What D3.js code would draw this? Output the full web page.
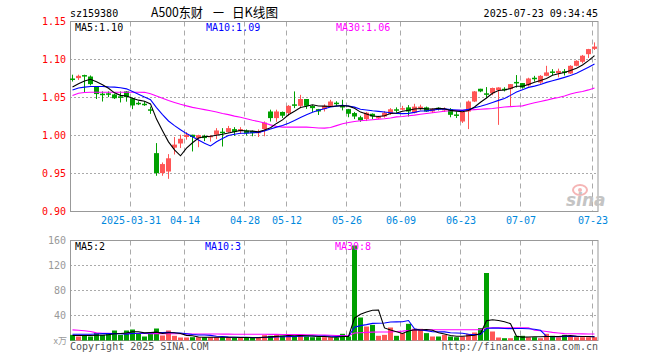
<!DOCTYPE html>
<html>
<head>
<meta charset="utf-8">
<script src="https://cdn.jsdelivr.net/npm/d3@7"></script>
<style>
  body { margin: 0; background: #fff; }
  text { font-family: "DejaVu Sans Mono", monospace; font-size: 10px; }
</style>
</head>
<body>
<svg id="chart" width="660" height="360"></svg>
<script>
// trading days shown (88 sessions)
var dates = [
  "2025-03-17","2025-03-18","2025-03-19","2025-03-20","2025-03-21","2025-03-24","2025-03-25","2025-03-26","2025-03-27","2025-03-28",
  "2025-03-31","2025-04-01","2025-04-02","2025-04-03","2025-04-07","2025-04-08","2025-04-09","2025-04-10","2025-04-11","2025-04-14",
  "2025-04-15","2025-04-16","2025-04-17","2025-04-18","2025-04-21","2025-04-22","2025-04-23","2025-04-24","2025-04-25","2025-04-28",
  "2025-04-29","2025-04-30","2025-05-06","2025-05-07","2025-05-08","2025-05-09","2025-05-12","2025-05-13","2025-05-14","2025-05-15",
  "2025-05-16","2025-05-19","2025-05-20","2025-05-21","2025-05-22","2025-05-23","2025-05-26","2025-05-27","2025-05-28","2025-05-29",
  "2025-05-30","2025-06-03","2025-06-04","2025-06-05","2025-06-06","2025-06-09","2025-06-10","2025-06-11","2025-06-12","2025-06-13",
  "2025-06-16","2025-06-17","2025-06-18","2025-06-19","2025-06-20","2025-06-23","2025-06-24","2025-06-25","2025-06-26","2025-06-27",
  "2025-06-30","2025-07-01","2025-07-02","2025-07-03","2025-07-04","2025-07-07","2025-07-08","2025-07-09","2025-07-10","2025-07-11",
  "2025-07-14","2025-07-15","2025-07-16","2025-07-17","2025-07-18","2025-07-21","2025-07-22","2025-07-23"
];

var open = [
  1.075,1.0755,1.0795,1.0776,1.0645,1.055,1.0555,1.054,1.0515,1.058,
  1.049,1.043,1.0418,1.0345,0.9768,0.9505,0.9526,0.984,0.9895,0.998,
  1.001,0.9966,0.9996,0.998,1.001,1.005,1.0045,1.0084,1.0058,1.0066,
  1.006,1.004,1.0085,1.0316,1.0229,1.031,1.0295,1.041,1.039,1.048,
  1.039,1.0347,1.0347,1.039,1.0432,1.0388,1.0347,1.0295,1.024,1.0216,
  1.0286,1.0226,1.025,1.0285,1.0345,1.0355,1.037,1.030,1.0375,1.037,
  1.0316,1.0365,1.034,1.0347,1.0277,1.0184,1.0316,1.0447,1.0615,1.0555,
  1.0555,1.0597,1.0615,1.061,1.0705,1.069,1.066,1.076,1.0697,1.0785,
  1.0843,1.082,1.0845,1.0816,1.0917,1.097,1.107,1.114
];
var high = [
  1.080,1.080,1.080,1.079,1.065,1.058,1.058,1.055,1.058,1.0585,
  1.050,1.045,1.045,1.038,0.990,0.9645,0.9755,0.998,1.001,1.0045,
  1.001,1.001,1.001,1.0005,1.0097,1.0097,1.0126,1.011,1.011,1.008,
  1.0065,1.008,1.0185,1.034,1.034,1.0315,1.040,1.058,1.0535,1.048,
  1.040,1.035,1.041,1.047,1.045,1.047,1.035,1.031,1.026,1.031,
  1.029,1.026,1.032,1.036,1.037,1.039,1.040,1.0417,1.0405,1.038,
  1.036,1.037,1.037,1.036,1.0316,1.031,1.046,1.0585,1.0615,1.0637,
  1.063,1.0635,1.0635,1.0676,1.0795,1.069,1.076,1.0785,1.0795,1.0917,
  1.0873,1.088,1.0875,1.0925,1.099,1.106,1.114,1.1225
];
var low = [
  1.071,1.073,1.057,1.066,1.048,1.0447,1.0505,1.048,1.0435,1.0445,
  1.0347,1.040,1.039,1.0285,0.947,0.947,0.943,0.975,0.9835,0.9945,
  0.979,0.9846,0.9926,0.992,0.9953,0.9855,1.0035,0.9995,1.002,1.000,
  0.999,0.998,0.999,1.0184,1.018,1.023,1.026,1.036,1.036,1.035,
  1.031,1.027,1.0316,1.038,1.039,1.033,1.024,1.0216,1.018,1.019,
  1.0216,1.0216,1.0235,1.027,1.030,1.033,1.025,1.029,1.033,1.031,
  1.0296,1.033,1.031,1.024,1.023,1.0165,1.0084,1.044,1.057,1.049,
  1.053,1.014,1.058,1.038,1.063,1.0617,1.0645,1.071,1.068,1.078,
  1.0795,1.0765,1.079,1.081,1.091,1.095,1.102,1.1125
];
var close = [
  1.074,1.0785,1.079,1.0676,1.0545,1.0545,1.055,1.049,1.051,1.0505,
  1.0395,1.0426,1.0413,1.034,0.9505,0.9624,0.970,0.988,0.9957,1.001,
  0.998,1.0005,0.9966,0.9996,1.0066,1.0045,1.0097,1.0045,1.0084,1.003,
  1.003,1.005,1.017,1.0229,1.0316,1.026,1.039,1.040,1.048,1.039,
  1.036,1.0316,1.039,1.0447,1.0426,1.038,1.0286,1.025,1.020,1.030,
  1.025,1.025,1.030,1.0345,1.0338,1.036,1.0316,1.038,1.038,1.0316,
  1.035,1.036,1.035,1.0272,1.0272,1.031,1.0447,1.058,1.058,1.055,
  1.0625,1.0632,1.061,1.0676,1.0695,1.063,1.075,1.0755,1.0785,1.083,
  1.0838,1.085,1.084,1.0917,1.0983,1.105,1.1137,1.117
];

// price moving averages as drawn
var ma5 = [
  1.0637,1.068,1.0716,1.074,1.0707,1.0668,1.0621,1.0561,1.0528,1.052,
  1.049,1.0465,1.045,1.0416,1.0216,1.0062,0.9916,0.981,0.9733,0.9834,
  0.9905,0.9966,0.9984,0.9991,1.0003,1.0016,1.0034,1.005,1.0067,1.006,
  1.0057,1.0048,1.0073,1.0102,1.0159,1.0205,1.0273,1.0319,1.0369,1.0384,
  1.0404,1.0389,1.0387,1.0381,1.0388,1.0392,1.0386,1.0358,1.0308,1.0283,
  1.0257,1.025,1.026,1.0289,1.0297,1.0319,1.0332,1.0348,1.0355,1.035,
  1.0348,1.0357,1.0351,1.033,1.0321,1.0313,1.033,1.0376,1.0438,1.0493,
  1.0556,1.0593,1.0599,1.0619,1.0648,1.0649,1.0672,1.0701,1.0723,1.075,
  1.0792,1.0812,1.0829,1.0855,1.0886,1.0928,1.0985,1.1051
];
var ma10 = [
  1.060,1.0625,1.0637,1.0645,1.0645,1.0645,1.064,1.0637,1.0628,1.0614,
  1.0579,1.0543,1.0506,1.0472,1.0368,1.0276,1.0191,1.013,1.0075,1.0025,
  0.9984,0.9941,0.9897,0.9862,0.9918,0.9961,1.0,1.0017,1.0029,1.0031,
  1.0036,1.0041,1.0061,1.0085,1.011,1.0131,1.016,1.0196,1.0236,1.0272,
  1.0305,1.0331,1.0353,1.0375,1.0386,1.0398,1.0388,1.0373,1.0345,1.0336,
  1.0325,1.0318,1.0309,1.0299,1.029,1.0288,1.0291,1.0304,1.0322,1.0324,
  1.0334,1.0345,1.035,1.0342,1.0336,1.0331,1.0344,1.0364,1.0384,1.0407,
  1.0435,1.0462,1.0488,1.0528,1.0571,1.0603,1.0633,1.065,1.0671,1.0699,
  1.072,1.0742,1.0765,1.0789,1.0818,1.086,1.0899,1.094
];
var ma30 = [
  1.0525,1.0555,1.0565,1.057,1.057,1.057,1.057,1.057,1.057,1.057,
  1.057,1.057,1.0568,1.055,1.052,1.049,1.046,1.0435,1.041,1.039,
  1.037,1.0355,1.034,1.0325,1.031,1.029,1.0275,1.0255,1.024,1.022,
  1.020,1.0185,1.0165,1.014,1.012,1.011,1.011,1.011,1.011,1.011,
  1.0105,1.0098,1.0097,1.0105,1.013,1.0155,1.017,1.0185,1.0195,1.020,
  1.0207,1.0215,1.022,1.023,1.0245,1.025,1.026,1.0268,1.028,1.029,
  1.030,1.031,1.032,1.0325,1.033,1.033,1.0335,1.034,1.0345,1.035,
  1.0355,1.0365,1.0375,1.038,1.0385,1.039,1.041,1.043,1.0447,1.0465,
  1.0485,1.050,1.052,1.0545,1.0565,1.058,1.060,1.0625
];

// volume (x万) and its averages
var volume = [
  9,6.4,8,6.4,11.8,9,10.7,16,9,16,
  17.6,11.8,6.4,11.8,19.2,8,16,7.5,4.8,4.8,
  5.3,5.3,5.3,5.3,5.3,5.3,5.3,4.3,4.3,4.3,
  4.3,4.3,8.5,7.5,8.5,7.5,8.5,6.4,9,6.4,
  5.3,5.3,5.3,5.3,4.8,10.7,6.4,152,36.8,22.4,
  25,7.5,9,20.8,7.5,11.8,26.7,18.7,18.7,11.8,
  6.4,6.4,9,6.4,5.3,6.4,10.7,12.8,19.8,108,
  14.4,4.8,3.7,3.7,7.5,7.5,5.3,5.3,3.7,10.7,
  7.5,5.3,9,6.4,5.3,5.3,5.3,5.3
];
var vma5 = [
  8,8,8,8,8.3,8.3,9.2,10.8,11.3,12.1,
  13.9,14.1,12.2,12.7,13.4,11.4,12.3,12.5,11.1,8.2,
  7.7,5.5,5.1,5.2,5.3,5.3,5.3,5.1,4.9,4.7,
  4.5,4.3,5.1,5.8,6.6,7.3,8.1,7.7,8.0,7.6,
  7.1,6.5,6.3,5.5,5.2,6.3,6.5,35.8,42.1,45.7,
  48.5,48.7,20.1,16.9,14.0,11.3,15.2,17.1,16.7,17.5,
  16.5,12.4,10.5,8.0,6.7,6.7,7.6,8.3,11.0,31.5,
  33.1,32.0,30.1,26.9,6.8,5.4,5.5,5.9,5.9,6.5,
  6.5,6.5,7.2,7.8,6.7,6.3,6.3,5.5
];
var vma10 = [
  10,10,10,10,10.5,11,11,11,11,10.2,
  11.1,11.6,11.5,12.0,12.8,12.7,13.2,12.3,11.9,10.8,
  9.6,8.9,8.8,8.2,6.8,6.5,5.4,5.1,5.1,5.0,
  4.9,4.8,5.1,5.3,5.7,5.9,6.2,6.4,6.9,7.1,
  7.2,7.3,7.0,6.8,6.4,6.7,6.5,21.1,23.8,25.4,
  27.4,27.6,28.0,29.5,29.8,29.9,32.0,18.6,16.8,15.8,
  13.9,13.8,13.8,12.3,12.1,11.6,10.0,9.4,9.5,19.1,
  19.9,19.8,19.2,19.0,19.2,19.3,18.8,18.0,16.4,6.7,
  6.0,6.0,6.6,6.8,6.6,6.4,6.4,6.4
];
var vma30 = [
  17,16.4,15.5,14.5,12.2,11.6,11.4,11.3,11.3,11.2,
  11.2,11.1,11.1,11.0,11.0,11.0,10.9,10.8,10.7,10.6,
  10.5,10.4,10.4,10.3,10.3,10.2,10.2,10.1,10.1,10.0,
  10.0,9.9,9.9,9.8,9.8,9.7,9.6,9.5,9.4,9.2,
  9.0,8.8,8.6,8.4,8.1,7.8,7.6,12,12.5,13,
  13.4,13.6,13.6,13.7,14.5,15,16,17,17,17,
  17.2,17.2,17.2,17.2,17.2,17.2,17.2,17.2,17.3,20,
  20.5,20.5,20.5,20.5,20.5,20.5,20.5,16.5,15.5,14.5,
  13,12,11,10.8,10.8,10.6,10.5,10.4
];

var tickDates = ["2025-03-31","2025-04-14","2025-04-28","2025-05-12","2025-05-26","2025-06-09","2025-06-23","2025-07-07","2025-07-23"];
var tickLabels = ["2025-03-31","04-14","04-28","05-12","05-26","06-09","06-23","07-07","07-23"];
var priceTicks = [0.90, 0.95, 1.00, 1.05, 1.10, 1.15];
var volTicks = [40, 80, 120, 160];

var red = "#ff5555", green = "#00a000", gridColor = "#aaa", borderColor = "#999";

var svg = d3.select("#chart");

var x = d3.scaleBand().domain(dates).range([70, 598]);
var y = d3.scaleLinear().domain([0.90, 1.15]).range([211.5, 21.5]);
var yv = d3.scaleLinear().domain([0, 160]).range([340.5, 240.5]);

function gridX(d) { return x(d) + 0.5; }
function cx(d) { return x(d) + 2.5; }

// ---- header
svg.append("text").attr("x", 70).attr("y", 17).text("sz159380");
// title in three pieces, spaced as in the original
var titleParts = [
  {x: 151, w: 52, t: "A500东财"},
  {x: 213, w: 11, t: "一"},
  {x: 232, w: 46, t: "日K线图"}
];
svg.selectAll(".title").data(titleParts).enter().append("text")
  .attr("x", function(d) { return d.x; }).attr("y", 17)
  .attr("textLength", function(d) { return d.w; }).attr("lengthAdjust", "spacingAndGlyphs")
  .style("font-family", "'Noto Sans CJK SC', sans-serif").style("font-size", "13px")
  .text(function(d) { return d.t; });
svg.append("text").attr("x", 598).attr("y", 17).attr("text-anchor", "end").text("2025-07-23 09:34:45");

// ---- panel grids
function panel(top, bottom, hTicks, scale) {
  var g = svg.append("g");
  g.selectAll(".hg").data(hTicks).enter().append("line")
    .attr("x1", 70).attr("x2", 598)
    .attr("y1", function(d) { return scale(d); }).attr("y2", function(d) { return scale(d); })
    .attr("stroke", gridColor).attr("stroke-dasharray", "2,2");
  g.selectAll(".vg").data(tickDates).enter().append("line")
    .attr("x1", gridX).attr("x2", gridX)
    .attr("y1", top).attr("y2", bottom)
    .attr("stroke", gridColor).attr("stroke-dasharray", "5,4");
  g.append("rect").attr("x", 70.5).attr("y", top).attr("width", 527.5).attr("height", bottom - top)
    .attr("fill", "none").attr("stroke", borderColor);
  return g;
}
panel(21.5, 211.5, [0.95, 1.00, 1.05, 1.10], y);
panel(240.5, 340.5, [40, 80, 120], yv);

// sina watermark
var logo = svg.append("g");
logo.append("ellipse").attr("cx", 580).attr("cy", 190).attr("rx", 7).attr("ry", 5)
  .attr("fill", "none").attr("stroke", "#f5b5b5").attr("stroke-width", 2);
logo.append("circle").attr("cx", 580).attr("cy", 190).attr("r", 2).attr("fill", "#f5b5b5");
logo.append("text").attr("x", 566).attr("y", 206)
  .style("font-family", "'DejaVu Sans', sans-serif").style("font-size", "17px")
  .style("font-style", "italic").style("font-weight", "bold")
  .attr("fill", "#c4c4c4").text("sina");

// ---- axes
var yAxis = svg.append("g").attr("transform", "translate(70,0)")
  .call(d3.axisLeft(y).tickValues(priceTicks).tickFormat(d3.format(".2f")).tickSize(0).tickPadding(4));
yAxis.select(".domain").remove();
yAxis.selectAll("text").attr("fill", "#ff0000").style("font-size", "10px").style("font-family", "'DejaVu Sans Mono', monospace");

var xAxis = svg.append("g").attr("transform", "translate(-2,212)")
  .call(d3.axisBottom(x).tickValues(tickDates)
    .tickFormat(function(d, i) { return tickLabels[i]; }).tickSize(0).tickPadding(5));
xAxis.select(".domain").remove();
xAxis.selectAll("text").attr("fill", "#0088dd").style("font-size", "10px").style("font-family", "'DejaVu Sans Mono', monospace");

var vAxis = svg.append("g").attr("transform", "translate(70,0)")
  .call(d3.axisLeft(yv).tickValues(volTicks).tickSize(0).tickPadding(4));
vAxis.select(".domain").remove();
vAxis.selectAll("text").attr("fill", "#999").style("font-size", "10px").style("font-family", "'DejaVu Sans Mono', monospace");
svg.append("text").attr("x", 67).attr("y", 344).attr("text-anchor", "end")
  .style("font-family", "'Noto Sans CJK SC', sans-serif").style("font-size", "9px")
  .attr("fill", "#999").text("x万");

// ---- candles
var candles = svg.append("g");
dates.forEach(function(d, i) {
  var up = close[i] >= open[i];
  var col = up ? red : green;
  candles.append("line")
    .attr("x1", cx(d)).attr("x2", cx(d))
    .attr("y1", y(high[i])).attr("y2", y(low[i]))
    .attr("stroke", col);
  var top = y(Math.max(open[i], close[i]));
  var h = Math.max(Math.abs(y(open[i]) - y(close[i])), 1.5);
  candles.append("rect")
    .attr("x", x(d)).attr("y", top).attr("width", 5).attr("height", h)
    .attr("fill", col);
});

// ---- volume bars
svg.append("g").selectAll("rect").data(volume).enter().append("rect")
  .attr("x", function(v, i) { return x(dates[i]); })
  .attr("y", function(v) { return yv(v); })
  .attr("width", 5)
  .attr("height", function(v) { return yv(0) - yv(v); })
  .attr("fill", function(v, i) { return close[i] >= open[i] ? red : green; });

// ---- moving average lines
function maLine(values, scale, color) {
  var line = d3.line()
    .x(function(v, i) { return cx(dates[i]); })
    .y(function(v) { return scale(v); });
  svg.append("path").datum(values)
    .attr("fill", "none").attr("stroke", color).attr("stroke-width", 1.1)
    .attr("d", line);
}
maLine(ma30, y, "#ff00ff");
maLine(ma10, y, "#0000ff");
maLine(ma5, y, "#000000");
maLine(vma30, yv, "#ff00ff");
maLine(vma10, yv, "#0000ff");
maLine(vma5, yv, "#000000");

// ---- legends
var legends = [
  {x: 75, y: 31, t: "MA5:1.10", c: "#000"},
  {x: 206, y: 31, t: "MA10:1.09", c: "#0000ff"},
  {x: 336, y: 31, t: "MA30:1.06", c: "#ff00ff"},
  {x: 75, y: 250, t: "MA5:2", c: "#000"},
  {x: 205, y: 250, t: "MA10:3", c: "#0000ff"},
  {x: 335, y: 250, t: "MA30:8", c: "#ff00ff"}
];
svg.selectAll(".lg").data(legends).enter().append("text")
  .attr("x", function(d) { return d.x; }).attr("y", function(d) { return d.y; })
  .attr("fill", function(d) { return d.c; })
  .text(function(d) { return d.t; });

// ---- footer
svg.append("text").attr("x", 70).attr("y", 350).attr("fill", "#555").text("Copyright 2025 SINA.COM");
svg.append("text").attr("x", 598).attr("y", 350).attr("text-anchor", "end").attr("fill", "#555").text("http://finance.sina.com.cn");
</script>
</body>
</html>
